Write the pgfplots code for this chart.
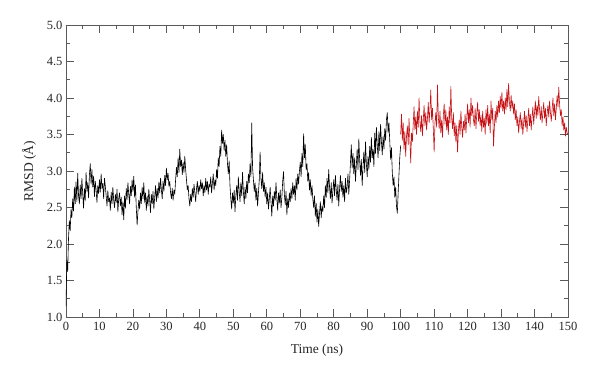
\documentclass[border=0pt]{standalone}
\usepackage{fontspec}
\setmainfont{Liberation Serif}
\usepackage{pgfplots}
\pgfplotsset{compat=1.18}
\usepackage{pgfplotstable}
\definecolor{rmsdred}{RGB}{198,18,22}
\definecolor{axgray}{RGB}{90,90,90}

\pgfplotstableread{
t v
0 1.15
0.25 1.78
0.5 1.62
0.75 2.08
1 2.32
1.25 2.18
1.5 2.47
1.75 2.36
2 2.62
2.25 2.45
2.5 2.78
2.75 2.55
3 2.85
3.25 2.58
3.5 2.97
3.75 2.66
4 2.55
4.25 2.81
4.5 2.62
4.75 2.90
5 2.68
5.25 2.49
5.5 2.76
5.75 2.60
6 2.98
6.25 2.72
6.5 2.84
6.75 2.63
7 2.95
7.25 3.10
7.5 2.82
7.75 3.02
8 2.78
8.25 2.93
8.5 2.65
8.75 2.86
9 2.74
9.25 2.57
9.5 2.80
9.75 2.69
10 2.88
10.25 2.71
10.5 2.96
10.75 2.76
11 2.83
11.25 2.62
11.5 2.90
11.75 2.79
12 2.66
12.25 2.52
12.5 2.73
12.75 2.58
13 2.63
13.25 2.46
13.5 2.71
13.75 2.55
14 2.78
14.25 2.60
14.5 2.50
14.75 2.68
15 2.57
15.25 2.75
15.5 2.44
15.75 2.62
16 2.70
16.25 2.52
16.5 2.64
16.75 2.40
17 2.58
17.25 2.33
17.5 2.66
17.75 2.49
18 2.76
18.25 2.61
18.5 2.84
18.75 2.68
19 2.55
19.25 2.79
19.5 2.66
19.75 2.88
20 2.72
20.25 2.93
20.5 2.64
20.75 2.81
21 2.50
21.25 2.26
21.5 2.45
21.75 2.60
22 2.48
22.25 2.70
22.5 2.55
22.75 2.78
23 2.62
23.25 2.84
23.5 2.57
23.75 2.70
24 2.46
24.25 2.66
24.5 2.52
24.75 2.75
25 2.60
25.25 2.43
25.5 2.68
25.75 2.55
26 2.72
26.25 2.48
26.5 2.64
26.75 2.80
27 2.58
27.25 2.76
27.5 2.63
27.75 2.85
28 2.70
28.25 2.90
28.5 2.74
28.75 2.62
29 2.86
29.25 2.72
29.5 2.94
29.75 2.80
30 3.04
30.25 2.88
30.5 2.97
30.75 2.79
31 2.86
31.25 2.70
31.5 2.62
31.75 2.76
32 2.60
32.25 2.74
32.5 2.68
32.75 2.88
33 3.05
33.25 2.92
33.5 3.18
33.75 2.98
34 3.30
34.25 3.06
34.5 3.15
34.75 2.95
35 3.12
35.25 2.98
35.5 3.20
35.75 3.02
36 2.88
36.25 2.74
36.5 2.80
36.75 2.62
37 2.52
37.25 2.68
37.5 2.58
37.75 2.76
38 2.64
38.25 2.82
38.5 2.70
38.75 2.58
39 2.76
39.25 2.86
39.5 2.68
39.75 2.80
40 2.72
40.25 2.88
40.5 2.76
40.75 2.84
41 2.66
41.25 2.80
41.5 2.70
41.75 2.90
42 2.74
42.25 2.86
42.5 2.68
42.75 2.82
43 2.78
43.25 2.92
43.5 2.70
43.75 2.84
44 2.96
44.25 2.74
44.5 2.88
44.75 2.80
45 3.02
45.25 2.90
45.5 3.18
45.75 3.06
46 3.34
46.25 3.20
46.5 3.56
46.75 3.38
47 3.50
47.25 3.28
47.5 3.42
47.75 3.20
48 3.36
48.25 3.10
48.5 2.96
48.75 3.14
49 2.80
49.25 2.62
49.5 2.48
49.75 2.70
50 2.56
50.25 2.74
50.5 2.44
50.75 2.66
51 2.80
51.25 2.60
51.5 2.92
51.75 2.72
52 2.58
52.25 2.84
52.5 2.66
52.75 2.98
53 2.72
53.25 2.55
53.5 2.78
53.75 2.62
54 2.86
54.25 2.70
54.5 2.96
54.75 2.84
55 3.10
55.25 2.92
55.5 3.66
55.75 3.05
56 2.88
56.25 2.72
56.5 2.84
56.75 2.60
57 2.76
57.25 2.52
57.5 2.70
57.75 2.88
58 3.26
58.25 2.90
58.5 2.76
58.75 2.98
59 2.72
59.25 2.84
59.5 2.64
59.75 2.78
60 2.55
60.25 2.70
60.5 2.48
60.75 2.62
61 2.78
61.25 2.58
61.5 2.38
61.75 2.66
62 2.52
62.25 2.72
62.5 2.60
62.75 2.84
63 2.62
63.25 2.46
63.5 2.70
63.75 2.56
64 2.74
64.25 2.50
64.5 2.64
64.75 2.86
65 2.99
65.25 2.68
65.5 2.54
65.75 2.72
66 2.40
66.25 2.62
66.5 2.50
66.75 2.70
67 2.58
67.25 2.76
67.5 2.62
67.75 2.84
68 2.68
68.25 2.80
68.5 2.60
68.75 2.90
69 2.74
69.25 2.96
69.5 2.82
69.75 3.00
70 3.12
70.25 2.92
70.5 3.24
70.75 3.06
71 3.51
71.25 3.18
71.5 3.36
71.75 3.02
72 3.10
72.25 2.86
72.5 2.98
72.75 2.74
73 2.88
73.25 2.66
73.5 2.80
73.75 2.62
74 2.50
74.25 2.66
74.5 2.38
74.75 2.56
75 2.30
75.25 2.48
75.5 2.24
75.75 2.42
76 2.58
76.25 2.36
76.5 2.52
76.75 2.44
77 2.66
77.25 2.50
77.5 2.80
77.75 2.64
78 2.90
78.25 2.70
78.5 3.02
78.75 2.78
79 2.62
79.25 2.84
79.5 2.56
79.75 2.74
80 2.88
80.25 2.66
80.5 2.94
80.75 2.74
81 2.60
81.25 2.82
81.5 2.52
81.75 2.76
82 2.94
82.25 2.72
82.5 2.86
82.75 2.64
83 2.80
83.25 2.58
83.5 2.90
83.75 2.70
84 2.78
84.25 2.96
84.5 2.68
84.75 2.88
85 3.12
85.25 3.36
85.5 3.04
85.75 3.24
86 2.96
86.25 3.18
86.5 2.86
86.75 3.08
87 3.30
87.25 3.02
87.5 3.44
87.75 3.14
88 2.94
88.25 3.16
88.5 2.80
88.75 3.06
89 3.26
89.25 2.98
89.5 3.40
89.75 3.10
90 2.92
90.25 3.20
90.5 3.02
90.75 3.34
91 3.12
91.25 3.46
91.5 3.18
91.75 3.30
92 3.06
92.25 3.52
92.5 3.24
92.75 3.60
93 3.36
93.25 3.18
93.5 3.54
93.75 3.28
94 3.64
94.25 3.40
94.5 3.22
94.75 3.48
95 3.30
95.25 3.58
95.5 3.42
95.75 3.70
96 3.80
96.25 3.52
96.5 3.66
96.75 3.40
97 3.16
97.25 3.32
97.5 2.98
97.75 2.80
98 2.92
98.25 2.64
98.5 2.78
98.75 2.52
99 2.42
99.25 2.70
99.5 2.96
99.75 3.20
100 3.35
}\blacktable

\pgfplotstableread{
t v
100 3.50
100.25 3.78
100.5 3.42
100.75 3.66
101 3.30
101.25 3.54
101.5 3.20
101.75 3.48
102 3.62
102.25 3.36
102.5 3.72
102.75 3.44
103 3.11
103.25 3.52
103.5 3.40
103.75 3.64
104 3.88
104.25 3.56
104.5 3.74
104.75 3.50
105 3.82
105.25 3.60
105.5 4.00
105.75 3.68
106 3.54
106.25 3.76
106.5 3.48
106.75 3.70
107 3.90
107.25 3.62
107.5 3.80
107.75 3.56
108 3.72
108.25 3.94
108.5 3.66
108.75 3.84
109 4.11
109.25 3.70
109.5 3.86
109.75 3.58
110 3.26
110.25 3.66
110.5 3.80
110.75 3.60
111 4.18
111.25 3.74
111.5 3.58
111.75 3.82
112 3.52
112.25 3.70
112.5 3.46
112.75 3.76
113 3.92
113.25 3.64
113.5 3.84
113.75 3.56
114 3.74
114.25 3.50
114.5 3.88
114.75 3.66
115 4.16
115.25 3.72
115.5 3.58
115.75 3.80
116 3.48
116.25 3.66
116.5 3.40
116.75 3.62
117 3.26
117.25 3.54
117.5 3.70
117.75 3.50
118 3.82
118.25 3.60
118.5 3.46
118.75 3.68
119 3.56
119.25 3.78
119.5 3.52
119.75 3.72
120 3.92
120.25 3.66
120.5 3.84
120.75 3.60
121 4.00
121.25 3.76
121.5 3.90
121.75 3.70
122 3.62
122.25 3.86
122.5 3.58
122.75 3.80
123 3.94
123.25 3.68
123.5 3.84
123.75 3.62
124 3.76
124.25 3.54
124.5 3.82
124.75 3.60
125 3.72
125.25 3.50
125.5 3.84
125.75 3.64
126 3.90
126.25 3.62
126.5 3.78
126.75 3.52
127 3.96
127.25 3.70
127.5 3.86
127.75 3.34
128 3.60
128.25 3.82
128.5 3.66
128.75 3.90
129 3.74
129.25 3.96
129.5 3.80
129.75 4.02
130 3.86
130.25 4.08
130.5 3.82
130.75 3.96
131 3.78
131.25 4.00
131.5 3.84
131.75 4.12
132 3.88
132.25 4.20
132.5 3.94
132.75 3.82
133 4.04
133.25 3.86
133.5 3.96
133.75 3.78
134 3.92
134.25 3.70
134.5 3.84
134.75 3.62
135 3.74
135.25 3.52
135.5 3.68
135.75 3.80
136 3.58
136.25 3.72
136.5 3.50
136.75 3.66
137 3.82
137.25 3.60
137.5 3.76
137.75 3.54
138 3.70
138.25 3.86
138.5 3.62
138.75 3.78
139 3.56
139.25 3.74
139.5 3.88
139.75 3.64
140 3.80
140.25 3.96
140.5 3.72
140.75 3.90
141 3.76
141.25 4.02
141.5 3.84
141.75 3.70
142 3.88
142.25 3.66
142.5 3.80
142.75 3.94
143 3.72
143.25 3.86
143.5 3.62
143.75 3.78
144 3.90
144.25 3.74
144.5 3.96
144.75 3.80
145 3.68
145.25 3.84
145.5 4.00
145.75 3.76
146 3.92
146.25 3.70
146.5 3.86
146.75 4.04
147 3.88
147.25 4.15
147.5 3.90
147.75 3.76
148 3.84
148.25 3.62
148.5 3.74
148.75 3.56
149 3.66
149.25 3.48
149.5 3.60
149.75 3.52
150 3.50
}\redtable

\begin{document}
\begin{tikzpicture}
\begin{axis}[
  scale only axis,
  width=502pt, height=292pt,
  xmin=0, xmax=150, ymin=1, ymax=5,
  xtick={0,10,...,150},
  ytick={1,1.5,...,5},
  minor x tick num=1,
  minor y tick num=1,
  tick align=inside,
  major tick length=8pt,
  minor tick length=4pt,
  axis line style={axgray, line width=0.8pt},
  every tick/.style={axgray, line width=0.8pt},
  tick style={axgray, line width=0.8pt},
  yticklabel style={/pgf/number format/fixed, /pgf/number format/fixed zerofill, /pgf/number format/precision=1},
  xticklabel style={yshift=-1.5pt},
  /pgf/number format/assume math mode=true,
  tick label style={font=\fontsize{12.5}{14}\selectfont, text=black!85},
  label style={font=\fontsize{13.5}{15}\selectfont, text=black!85},
  xlabel={Time (ns)},
  ylabel={RMSD (Å)},
  xlabel style={yshift=-7pt},
  ylabel style={yshift=4pt},
]
\addplot[black, line width=0.6pt, line join=round] table[x=t, y=v] {\blacktable};
\addplot[rmsdred, line width=0.6pt, line join=round] table[x=t, y=v] {\redtable};
\end{axis}
\path (-66pt,-59pt) rectangle (534pt,317pt);
\end{tikzpicture}
\end{document}
